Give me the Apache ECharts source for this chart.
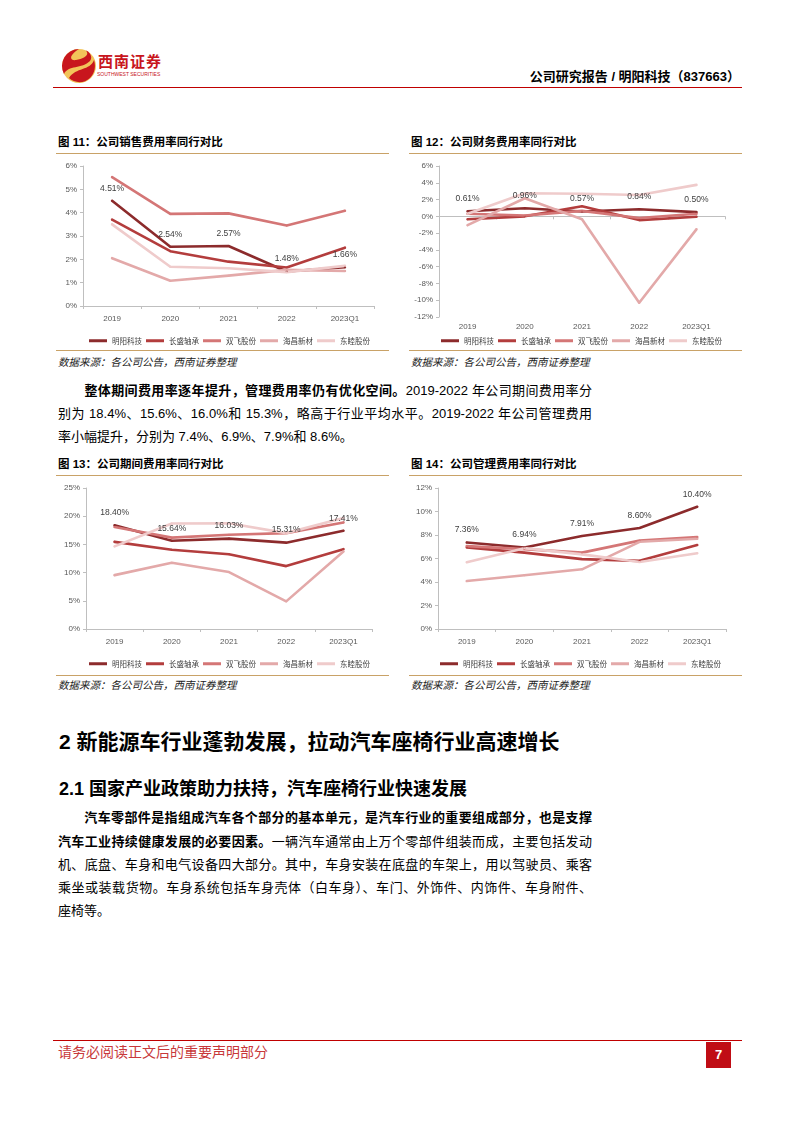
<!DOCTYPE html>
<html><head><meta charset="utf-8">
<script src="https://cdn.jsdelivr.net/npm/echarts@6/dist/echarts.min.js"></script>
<style>
body{margin:0;width:794px;height:1123px;position:relative;background:#fff;font-family:"Liberation Sans","Noto Sans CJK SC",sans-serif;color:#000;overflow:hidden}
.abs{position:absolute;white-space:nowrap}
.ttl{position:absolute;font-size:11.5px;font-weight:700;line-height:14px;white-space:nowrap}
.gold{position:absolute;height:1px;background:#C9A267}
.src{position:absolute;font-size:10.5px;font-style:italic;color:#222;line-height:13px;white-space:nowrap}
.ln{position:absolute;left:58px;width:534px;font-size:13px;line-height:16px;text-align:justify;text-align-last:justify}
.ln.last{text-align-last:left}
.ln b{font-weight:700}
.chart{position:absolute}
</style></head>
<body>
<!-- header -->
<svg class="abs" style="left:60px;top:47px" width="38" height="38" viewBox="0 0 38 38">
  <circle cx="19" cy="19" r="17" fill="#F2C45A"/>
  <path d="M19 2 A17 17 0 0 0 4 27 C8 18 22 22 30 14 C33 10 30 5 26 3.5 C30 8 24 12 16 13 C10 14 8 9 19 2 Z" fill="#C8161D"/>
  <path d="M34 13 C30 24 16 20 9 31 C14 36 24 37 30 31 C35 26 36 19 34 13 Z" fill="#C8161D"/>
</svg>
<div class="abs" style="left:98px;top:53px;font-size:15px;font-weight:700;color:#C8161D;line-height:18px;letter-spacing:1px">西南证券</div>
<div class="abs" style="left:97px;top:71px;font-size:5px;color:#C8161D;line-height:6px">SOUTHWEST SECURITIES</div>
<div class="abs" style="right:54px;top:69px;font-size:13px;font-weight:700;line-height:16px">公司研究报告 / 明阳科技（837663）</div>
<div class="abs" style="left:53px;top:87px;width:689px;height:1px;background:#C00000"></div>

<!-- figure titles row 1 -->
<div class="ttl" style="left:58px;top:135px">图 11：公司销售费用率同行对比</div>
<div class="ttl" style="left:411px;top:135px">图 12：公司财务费用率同行对比</div>
<div class="gold" style="left:56px;top:153px;width:333px"></div>
<div class="gold" style="left:409px;top:153px;width:333px"></div>
<div id="c1" class="chart" style="left:55px;top:155px;width:335px;height:193px"></div>
<div id="c2" class="chart" style="left:405px;top:155px;width:340px;height:193px"></div>
<div class="gold" style="left:56px;top:350px;width:333px"></div>
<div class="gold" style="left:409px;top:350px;width:333px"></div>
<div class="src" style="left:58px;top:356px">数据来源：各公司公告，西南证券整理</div>
<div class="src" style="left:411px;top:356px">数据来源：各公司公告，西南证券整理</div>

<!-- paragraph 1 -->
<div class="ln" style="top:383px"><span style="display:inline-block;width:26px"></span><b>整体期间费用率逐年提升，管理费用率仍有优化空间。</b>2019-2022 年公司期间费用率分</div>
<div class="ln" style="top:406px">别为 18.4%、15.6%、16.0%和 15.3%，略高于行业平均水平。2019-2022 年公司管理费用</div>
<div class="ln last" style="top:429px">率小幅提升，分别为 7.4%、6.9%、7.9%和 8.6%。</div>

<!-- figure titles row 2 -->
<div class="ttl" style="left:58px;top:457px">图 13：公司期间费用率同行对比</div>
<div class="ttl" style="left:411px;top:457px">图 14：公司管理费用率同行对比</div>
<div class="gold" style="left:56px;top:475px;width:333px"></div>
<div class="gold" style="left:409px;top:475px;width:333px"></div>
<div id="c3" class="chart" style="left:55px;top:477px;width:335px;height:195px"></div>
<div id="c4" class="chart" style="left:405px;top:477px;width:340px;height:195px"></div>
<div class="gold" style="left:56px;top:675px;width:333px"></div>
<div class="gold" style="left:409px;top:675px;width:333px"></div>
<div class="src" style="left:58px;top:679px">数据来源：各公司公告，西南证券整理</div>
<div class="src" style="left:411px;top:679px">数据来源：各公司公告，西南证券整理</div>

<!-- section headings -->
<div class="abs" style="left:59px;top:730px;font-size:21px;font-weight:700;line-height:24px">2 新能源车行业蓬勃发展，拉动汽车座椅行业高速增长</div>
<div class="abs" style="left:59px;top:778px;font-size:18px;font-weight:700;line-height:22px">2.1 国家产业政策助力扶持，汽车座椅行业快速发展</div>

<!-- paragraph 2 -->
<div class="ln" style="top:810px"><span style="display:inline-block;width:26px"></span><b>汽车零部件是指组成汽车各个部分的基本单元，是汽车行业的重要组成部分，也是支撑</b></div>
<div class="ln" style="top:834px"><b>汽车工业持续健康发展的必要因素。</b>一辆汽车通常由上万个零部件组装而成，主要包括发动</div>
<div class="ln" style="top:857px">机、底盘、车身和电气设备四大部分。其中，车身安装在底盘的车架上，用以驾驶员、乘客</div>
<div class="ln" style="top:880px">乘坐或装载货物。车身系统包括车身壳体（白车身）、车门、外饰件、内饰件、车身附件、</div>
<div class="ln last" style="top:903px">座椅等。</div>

<!-- footer -->
<div class="abs" style="left:53px;top:1040px;width:689px;height:1px;background:#C00000"></div>
<div class="abs" style="left:58px;top:1044px;font-size:14px;color:#C8383A;line-height:17px">请务必阅读正文后的重要声明部分</div>
<div class="abs" style="left:706px;top:1042px;width:25px;height:26px;background:#C00D15;color:#fff;font-weight:700;font-size:13px;line-height:26px;text-align:center">7</div>

<script>
const categories = ['2019', '2020', '2021', '2022', '2023Q1'];
const companies = ['明阳科技', '长盛轴承', '双飞股份', '海昌新材', '东睦股份'];

// 图11 销售费用率 (%)
const sales_MY = [4.51, 2.54, 2.57, 1.48, 1.66];
const sales_CS = [3.70, 2.35, 1.90, 1.65, 2.50];
const sales_SF = [5.52, 3.95, 3.97, 3.45, 4.08];
const sales_HC = [2.05, 1.08, 1.30, 1.55, 1.50];
const sales_DM = [3.50, 1.68, 1.62, 1.45, 1.72];
const salesAxis = [0, 6, 1];

// 图12 财务费用率 (%)
const fin_MY = [0.61, 0.96, 0.57, 0.84, 0.50];
const fin_CS = [-0.35, 0.00, 1.20, -0.45, -0.05];
const fin_SF = [0.30, 0.10, 0.65, -0.20, 0.30];
const fin_HC = [-1.05, 2.15, -0.35, -10.30, -1.55];
const fin_DM = [0.30, 2.75, 2.70, 2.55, 3.75];
const finAxis = [-12, 6, 2];

// 图13 期间费用率 (%)
const period_MY = [18.40, 15.64, 16.03, 15.31, 17.41];
const period_CS = [15.45, 14.05, 13.25, 11.15, 14.15];
const period_SF = [18.10, 16.20, 16.70, 17.00, 18.90];
const period_HC = [9.55, 11.75, 10.10, 4.90, 13.75];
const period_DM = [14.65, 18.70, 18.75, 17.00, 19.70];
const periodAxis = [0, 25, 5];

// 图14 管理费用率 (%)
const admin_MY = [7.36, 6.94, 7.91, 8.60, 10.40];
const admin_CS = [6.95, 6.50, 5.95, 5.80, 7.15];
const admin_SF = [7.05, 6.80, 6.50, 7.52, 7.82];
const admin_HC = [4.08, 4.58, 5.08, 7.42, 7.68];
const admin_DM = [5.68, 6.88, 6.35, 5.70, 6.45];
const adminAxis = [0, 12, 2];

const colors = ['#8C2B2C', '#B33D3D', '#D47676', '#E3A9A9', '#EFCBCB'];
const numFont = '"Liberation Sans", Arial, sans-serif';

function build(id, seriesData, ax, grid, legendLeft, legendTop, xMargin) {
  const chart = echarts.init(document.getElementById(id), null, {renderer: 'canvas'});
  const series = seriesData.map((d, i) => ({
    name: companies[i],
    type: 'line',
    data: d,
    symbol: 'circle',
    symbolSize: 2,
    showSymbol: true,
    lineStyle: {width: 2.6, color: colors[i], cap: 'round', join: 'round'},
    itemStyle: {color: colors[i]},
    z: 2,
    label: i === 0 ? {
      show: true, position: 'top', distance: 7,
      color: '#404040', fontSize: 8.5, fontFamily: numFont,
      formatter: p => p.value.toFixed(2) + '%'
    } : {show: false},
    labelLayout: {hideOverlap: false},
    emphasis: {disabled: true}
  }));
  chart.setOption({
    animation: false,
    color: colors,
    grid: grid,
    legend: {
      data: companies, left: legendLeft, top: legendTop,
      icon: 'rect', itemWidth: 18, itemHeight: 3, itemGap: 4,
      textStyle: {fontSize: 7.5, color: '#404040', fontFamily: '"Noto Sans CJK SC", sans-serif'}
    },
    xAxis: {
      type: 'category', data: categories, boundaryGap: true,
      axisLine: {onZero: true, lineStyle: {color: '#BFBFBF', width: 1}},
      axisTick: {show: true, length: 3, lineStyle: {color: '#BFBFBF'}},
      axisLabel: {color: '#595959', fontSize: 8, fontFamily: numFont, margin: xMargin}
    },
    yAxis: {
      type: 'value', min: ax[0], max: ax[1], interval: ax[2],
      axisLine: {show: true, lineStyle: {color: '#BFBFBF', width: 1}},
      axisTick: {show: true, length: 3, lineStyle: {color: '#BFBFBF'}},
      splitLine: {show: false},
      axisLabel: {color: '#595959', fontSize: 8, fontFamily: numFont, margin: 6, formatter: '{value}%'}
    },
    series: series
  });
}

build('c1', [sales_MY, sales_CS, sales_SF, sales_HC, sales_DM], salesAxis,
  {left: 28, right: 16, top: 11, bottom: 42}, 29, 177, 9);
build('c2', [fin_MY, fin_CS, fin_SF, fin_HC, fin_DM], finAxis,
  {left: 34, right: 20, top: 11, bottom: 31}, 31, 177, 6);
build('c3', [period_MY, period_CS, period_SF, period_HC, period_DM], periodAxis,
  {left: 31, right: 18, top: 11, bottom: 43}, 29, 178, 9);
build('c4', [admin_MY, admin_CS, admin_SF, admin_HC, admin_DM], adminAxis,
  {left: 33, right: 19, top: 11, bottom: 43}, 30, 178, 9);
</script>
</body></html>
